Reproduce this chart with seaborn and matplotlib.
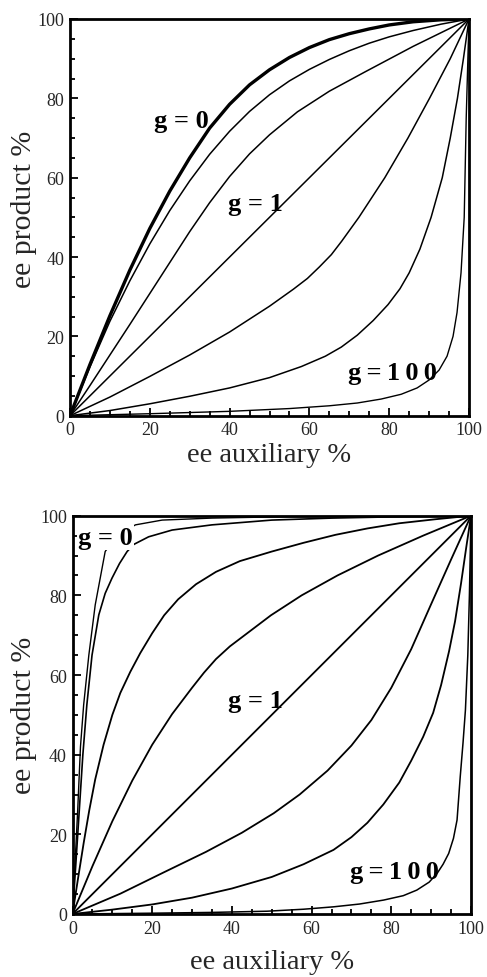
import matplotlib
matplotlib.use("Agg")
import matplotlib.pyplot as plt
import seaborn as sns
import pandas as pd
from matplotlib.ticker import MultipleLocator

# ---------------- data ----------------
# Top panel
top_g0_x = [0, 5, 10, 15, 20, 25, 30, 35, 40, 45, 50, 55, 60, 65, 70, 75, 80, 86, 93, 100]
top_g0_y = [0, 12.9, 25.2, 36.7, 47.2, 56.6, 65.0, 72.5, 78.5, 83.4, 87.2, 90.3, 92.8, 94.8, 96.3, 97.5, 98.5, 99.3, 99.8, 100]
top_c2_x = [0, 5, 10, 15, 20, 25, 30, 35, 40, 45, 50, 55, 60, 65, 70, 75, 80, 86, 93, 100]
top_c2_y = [0, 12.3, 23.8, 34.0, 43.3, 51.7, 59.2, 65.9, 71.7, 76.7, 80.9, 84.4, 87.3, 89.8, 92.0, 93.9, 95.5, 97.1, 98.7, 100]
top_c3_x = [0, 5, 10, 15, 20, 25, 30, 35, 40, 45, 50, 57, 65, 74, 86, 100]
top_c3_y = [0, 7.6, 15.3, 23.0, 30.8, 38.6, 46.4, 53.7, 60.3, 66.0, 70.8, 76.6, 81.8, 86.7, 93.1, 100]
top_g1_x = [0, 100]
top_g1_y = [0, 100]
top_c5_x = [0, 10, 20, 30, 40, 50, 56, 59.5, 62.5, 65.5, 68.1, 72.4, 78.9, 84.7, 90.1, 95.3, 100]
top_c5_y = [0, 4.7, 9.9, 15.3, 21.1, 27.6, 31.9, 34.6, 37.5, 40.6, 44, 50, 60, 70, 80, 90, 100]
top_c6_x = [0, 10, 20, 30, 40, 50, 58, 64, 68, 72, 76, 79.7, 82.7, 85, 87.7, 90.5, 93.3, 95.3, 97.1, 98.6, 100]
top_c6_y = [0, 1.3, 3.0, 4.9, 7.0, 9.6, 12.4, 15.0, 17.3, 20.3, 24, 28, 32, 36, 42, 50, 60, 70, 80, 90, 100]
top_g100_x = [0, 20, 40, 55, 65, 72, 78, 83, 87, 90, 92.5, 94.5, 96, 97, 98, 98.8, 99.3, 100]
top_g100_y = [0, 0.5, 1.1, 1.8, 2.5, 3.2, 4.2, 5.4, 7, 9, 11.5, 15, 20, 26, 36, 50, 75, 100]

# Bottom panel
bot_c1_x = [0, 0.6, 1.3, 2.0, 2.8, 4.1, 5.7, 8.2, 11, 15.8, 22.5, 35, 51, 75, 100]
bot_c1_y = [0, 12, 26, 42, 52.5, 65, 77.6, 91, 95, 97.7, 98.9, 99.4, 99.7, 99.9, 100]
bot_c2_x = [0, 0.8, 1.7, 2.6, 3.6, 4.9, 6.6, 8.2, 9.9, 11.8, 13.7, 15.4, 19.1, 25, 35, 50, 65, 80, 100]
bot_c2_y = [0, 12, 26, 40, 52.5, 65, 75.1, 80.5, 84.3, 88, 91, 92.8, 94.7, 96.4, 97.7, 98.9, 99.4, 99.7, 100]
bot_c3_x = [0, 1.4, 2.8, 4.2, 5.7, 7.8, 10, 12, 14.5, 17, 20, 23, 26.5, 31, 36, 42, 50, 58, 66, 74, 82, 91, 100]
bot_c3_y = [0, 9, 17.8, 26, 33.8, 42.5, 50, 55.5, 60.8, 65.5, 70.5, 75, 79, 82.8, 85.9, 88.6, 91, 93.2, 95.2, 96.8, 98.1, 99.1, 100]
bot_c4_x = [0, 5, 10, 15, 20, 25, 30, 33, 36, 39.5, 43.2, 49.8, 57.5, 66.5, 76.7, 88, 100]
bot_c4_y = [0, 12, 23.3, 33.5, 42.5, 50.2, 56.8, 60.6, 64, 67.2, 70, 75, 80, 85, 90, 95, 100]
bot_g1_x = [0, 100]
bot_g1_y = [0, 100]
bot_c6_x = [0, 12, 23, 33.5, 42.5, 50.5, 57, 64, 70, 75, 80, 85, 90, 95, 100]
bot_c6_y = [0, 5.1, 10.5, 15.6, 20.4, 25.3, 30, 36, 42.3, 48.7, 56.8, 66.5, 77.8, 89, 100]
bot_c7_x = [0, 10, 20, 30, 40, 50, 58, 65.5, 70, 74, 78, 82, 85, 88, 90.5, 92.5, 94.5, 96, 97.5, 98.8, 100]
bot_c7_y = [0, 1.1, 2.4, 4.1, 6.4, 9.3, 12.5, 16.1, 19.3, 22.9, 27.5, 33, 38.5, 44.5, 50.5, 57.5, 66, 73.5, 83, 92, 100]
bot_g100_x = [0, 20, 35, 48.8, 58, 65.5, 72, 78.1, 83, 86.4, 89.5, 91.5, 93, 94.4, 95.6, 96.5, 97.3, 98, 98.6, 99.2, 99.6, 100]
bot_g100_y = [0, 0.2, 0.4, 0.7, 1.2, 1.8, 2.5, 3.5, 4.6, 6, 8, 10.2, 12.5, 15.2, 19, 23.6, 34.5, 43, 51.2, 65, 80, 100]

tick_values = [0, 20, 40, 60, 80, 100]
x_label = "ee auxiliary %"
y_label = "ee product %"

top_curves = [
    (top_g0_x, top_g0_y, 2.4),
    (top_c2_x, top_c2_y, 1.1),
    (top_c3_x, top_c3_y, 1.1),
    (top_g1_x, top_g1_y, 1.1),
    (top_c5_x, top_c5_y, 1.1),
    (top_c6_x, top_c6_y, 1.1),
    (top_g100_x, top_g100_y, 1.0),
]
bot_curves = [
    (bot_c1_x, bot_c1_y, 1.0),
    (bot_c2_x, bot_c2_y, 1.2),
    (bot_c3_x, bot_c3_y, 1.3),
    (bot_c4_x, bot_c4_y, 1.3),
    (bot_g1_x, bot_g1_y, 1.3),
    (bot_c6_x, bot_c6_y, 1.3),
    (bot_c7_x, bot_c7_y, 1.3),
    (bot_g100_x, bot_g100_y, 1.1),
]
TS = "\u2009"
g100_text = "g" + TS + "=" + TS + "1" + TS + "0" + TS + "0"
top_labels = [("g = 0", 27.8, 74.5, False), ("g = 1", 46.5, 53.5, False), (g100_text, 80.8, 11.0, False)]
bot_labels = [("g = 0", 8.3, 94.5, True), ("g = 1", 46.0, 53.5, False), (g100_text, 80.7, 10.7, False)]

# ---------------- style ----------------
sns.set_style("ticks")
plt.rcParams['font.family'] = ['Liberation Serif', 'DejaVu Serif']

fig = plt.figure(figsize=(4.87, 9.78), dpi=100)
ax_top = fig.add_axes([70 / 487, 1 - 416.7 / 978, 399 / 487, 396.7 / 978])
ax_bot = fig.add_axes([72.5 / 487, 1 - 915 / 978, 398.5 / 487, 398.3 / 978])


def draw(ax, curves, labels, xpad, ylab_x, ylab_y):
    for cx, cy, lw in curves:
        df = pd.DataFrame({"aux": cx, "prod": cy})
        sns.lineplot(data=df, x="aux", y="prod", ax=ax, color="black",
                     linewidth=lw, sort=False, estimator=None)
    ax.set_xlim(0, 100)
    ax.set_ylim(0, 100)
    ax.set_xticks(tick_values)
    ax.set_yticks(tick_values)
    ax.xaxis.set_minor_locator(MultipleLocator(5))
    ax.yaxis.set_minor_locator(MultipleLocator(5))
    ax.tick_params(which="both", direction="in", top=False, right=False,
                   color="black", width=1.3)
    ax.tick_params(which="major", length=6, labelsize=13, pad=4)
    ax.tick_params(which="minor", length=3.5)
    for s in ax.spines.values():
        s.set_linewidth(2.0)
        s.set_color("black")
    ax.set_xlabel(x_label, fontsize=20.5, labelpad=xpad)
    ax.set_ylabel(y_label, fontsize=21.5, labelpad=3)
    ax.yaxis.set_label_coords(ylab_x, ylab_y)
    for txt, tx, ty, boxed in labels:
        kw = {}
        if boxed:
            kw["bbox"] = dict(facecolor="white", edgecolor="none", pad=1.0)
        ax.text(tx, ty, txt, ha="center", va="center", fontsize=19,
                fontweight="bold", color="black", zorder=5, **kw)


draw(ax_top, top_curves, top_labels, 3, -0.082, 0.523)
draw(ax_bot, bot_curves, bot_labels, 9, -0.088, 0.50)

fig.savefig("out.png", dpi=100, facecolor="white")
